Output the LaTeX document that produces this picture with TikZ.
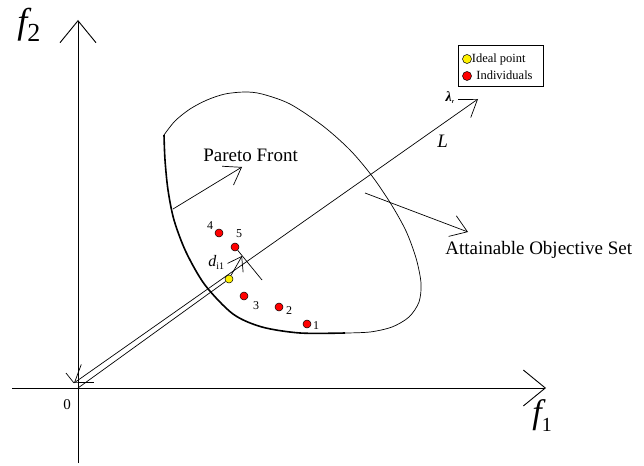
\documentclass[tikz,border=0pt]{standalone}
\usepackage{fontspec}
\setmainfont{Liberation Serif}
\usetikzlibrary{arrows.meta}

\begin{document}
\begin{tikzpicture}[x=1pt,y=-1pt,line width=0.7pt,
  >={Straight Barb[length=16pt,width=22pt]},
  axisline/.style={line width=0.9pt,-{Straight Barb[length=22pt,width=36pt]}},
  dot/.style={circle,draw,line width=0.5pt,inner sep=0pt,minimum size=8pt},
  lbl/.style={inner sep=0pt,font=\fontsize{19}{19}\selectfont},
  num/.style={inner sep=0pt,font=\fontsize{12}{12}\selectfont},
  lgd/.style={inner sep=0pt,anchor=base west,font=\fontsize{12.5}{12.5}\selectfont}]
\useasboundingbox (0,0) rectangle (644,465);

% axes
\coordinate (xlo) at (12,388);
\coordinate (xhi) at (546,388);
\coordinate (ylo) at (78,463);
\coordinate (yhi) at (78,20);
\coordinate (o) at (78,388);
\draw[axisline] (xlo) -- (xhi);
\draw[axisline] (ylo) -- (yhi);
\node[inner sep=0pt,anchor=base west] (f2) at (17,34) {\fontsize{36}{36}\selectfont\itshape f\raisebox{-8pt}{\fontsize{26}{26}\selectfont\upshape 2}};
\node[inner sep=0pt,anchor=base west] (f1) at (532,423) {\fontsize{34}{34}\selectfont\itshape f\raisebox{-8pt}{\fontsize{20}{20}\selectfont\upshape 1}};
\node[inner sep=0pt,anchor=base,font=\fontsize{15}{15}\selectfont] (zero) at (67,409) {0};

% attainable objective set and its pareto front
\draw plot[smooth] coordinates {(164,135) (175,121) (190,109) (207,100) (225,94) (245,92) (262,94)
  (290,104) (323,126) (350,150) (372,176) (391,204) (406,231) (416,258) (421,283) (419,302)
  (409,317) (392,327) (370,332) (345,333)};
\draw[line width=1.6pt] plot[smooth] coordinates {(164,135) (165,160) (168,190) (174,220) (186,252)
  (205,285) (233,314) (262,327) (300,333) (345,333)};

% individuals and ideal point
\node[dot,fill=yellow] (ideal) at (229,279) {};
\node[dot,fill=red] (p1) at (307,324) {};
\node[dot,fill=red] (p2) at (279,307) {};
\node[dot,fill=red] (p3) at (244,296) {};
\node[dot,fill=red] (p4) at (219,233) {};
\node[dot,fill=red] (p5) at (235,247) {};
\node[num] (n1) at (316,326) {1};
\node[num] (n2) at (289,311) {2};
\node[num] (n3) at (256,306) {3};
\node[num] (n4) at (210,226) {4};
\node[num] (n5) at (239,234) {5};

% line L
\coordinate (lstart) at (74,383);
\coordinate (lend) at (478,99);
\coordinate (stroke) at (66,373);
\draw[<->] (lstart) -- (lend);
\draw (stroke) -- (lstart);
\draw (o) -- (ideal);
\node[lbl,anchor=base west,font=\fontsize{19}{19}\selectfont\itshape] (llab) at (437,148) {L};
\node[inner sep=0pt] (lam) at (450,98) {\fontsize{14}{14}\selectfont\bfseries\itshape λ\raisebox{-2pt}{\fontsize{6}{6}\selectfont r}};

% distance d_i1
\coordinate (dtip) at (242,256);
\coordinate (perp) at (262,280);
\draw (p5) -- (perp);
\draw[-{Straight Barb[length=13pt,width=18pt]}] (ideal) -- (dtip);
\node[inner sep=0pt,anchor=base west] (dlab) at (208,266) {\fontsize{16}{16}\selectfont\itshape d\raisebox{-3pt}{\fontsize{10}{10}\selectfont\upshape i1}};

% labels with arrows
\coordinate (pfa) at (173,209);
\coordinate (pfb) at (242,167);
\draw[->] (pfa) -- (pfb);
\node[lbl,anchor=base west] (pf) at (203,161) {Pareto Front};
\coordinate (aosa) at (365,193);
\coordinate (aosb) at (468,232);
\draw[->] (aosa) -- (aosb);
\node[lbl,anchor=base west] (aos) at (445,254) {Attainable Objective Set};

% legend
\node[draw,line width=0.8pt,inner sep=0pt,minimum width=85pt,minimum height=41pt,anchor=north west] (legend) at (458,45) {};
\node[dot,fill=yellow,minimum size=9pt] (lgy) at (467,59) {};
\node[lgd] (lgyt) at (471.5,63) {Ideal point};
\node[dot,fill=red,minimum size=9pt] (lgr) at (467,76) {};
\node[lgd] (lgrt) at (476,80) {Individuals};
\end{tikzpicture}
\end{document}
